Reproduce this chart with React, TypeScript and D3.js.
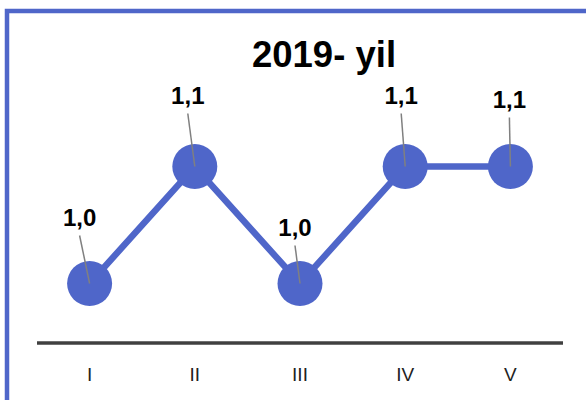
import { useRef, useEffect } from "react";
import * as d3 from "d3";

const FONT = "Arial, 'Liberation Sans', sans-serif";
const BLUE = "#4f66c9";

const TITLE = "2019- yil";
const categories = ["I", "II", "III", "IV", "V"];
const values = [1.0, 1.1, 1.0, 1.1, 1.1];
const valueLabels = ["1,0", "1,1", "1,0", "1,1", "1,1"];

// label offsets from the point (manual placement, like the original)
const LABEL_DX = [-10, -7, -5, -4, -1];
const LABEL_DY = [-58, -63, -48, -63, -59];

const W = 586;
const H = 400;

export default function App() {
  const ref = useRef<SVGSVGElement>(null);

  useEffect(() => {
    if (!ref.current) return;
    const svg = d3.select(ref.current);
    svg.selectAll("*").remove();

    const mg = { l: 37, r: 23, t: 108, b: 58 };

    // frame
    svg.append("rect")
      .attr("x", 7).attr("y", 11)
      .attr("width", 620).attr("height", 420)
      .attr("fill", "#fff").attr("stroke", BLUE).attr("stroke-width", 4.5);

    svg.append("text")
      .attr("x", 324).attr("y", 67)
      .attr("text-anchor", "middle")
      .attr("font-family", FONT).attr("font-weight", "bold").attr("font-size", "36.5px")
      .attr("fill", "#000")
      .text(TITLE);

    const x = d3.scaleBand<string>()
      .domain(categories)
      .range([mg.l, W - mg.r]);

    const y = d3.scaleLinear()
      .domain([0.95, 1.15])
      .range([H - mg.b, mg.t]);

    const pts = categories.map((c, i) => ({
      c, v: values[i], lbl: valueLabels[i],
      px: (x(c) ?? 0) + x.bandwidth() / 2,
      py: y(values[i]),
      dx: LABEL_DX[i], dy: LABEL_DY[i],
    }));

    // x axis
    svg.append("line")
      .attr("x1", mg.l).attr("x2", W - mg.r)
      .attr("y1", H - mg.b + 1).attr("y2", H - mg.b + 1)
      .attr("stroke", "#404040").attr("stroke-width", 3.5);

    svg.selectAll(".tick-lbl").data(pts).join("text")
      .attr("x", (d) => d.px).attr("y", H - mg.b + 39)
      .attr("text-anchor", "middle")
      .attr("font-family", FONT).attr("font-size", "19px").attr("fill", "#222")
      .text((d) => d.c);

    // line
    svg.append("path").datum(pts)
      .attr("d", d3.line<typeof pts[0]>().x((d) => d.px).y((d) => d.py))
      .attr("fill", "none").attr("stroke", BLUE).attr("stroke-width", 6.5);

    svg.selectAll(".pt").data(pts).join("circle")
      .attr("cx", (d) => d.px).attr("cy", (d) => d.py)
      .attr("r", 22.5).attr("fill", BLUE);

    // leader lines
    svg.selectAll(".leader").data(pts).join("line")
      .attr("x1", (d) => d.px + d.dx).attr("y1", (d) => d.py + d.dy + 10)
      .attr("x2", (d) => d.px).attr("y2", (d) => d.py)
      .attr("stroke", "#808080").attr("stroke-width", 1.5);

    svg.selectAll(".val").data(pts).join("text")
      .attr("x", (d) => d.px + d.dx).attr("y", (d) => d.py + d.dy)
      .attr("text-anchor", "middle")
      .attr("font-family", FONT).attr("font-weight", "bold").attr("font-size", "24px")
      .attr("fill", "#000")
      .text((d) => d.lbl);
  }, []);

  return (
    <svg
      ref={ref}
      width={W}
      height={H}
      style={{ position: "absolute", left: 0, top: 0, display: "block", background: "#fff" }}
    />
  );
}
